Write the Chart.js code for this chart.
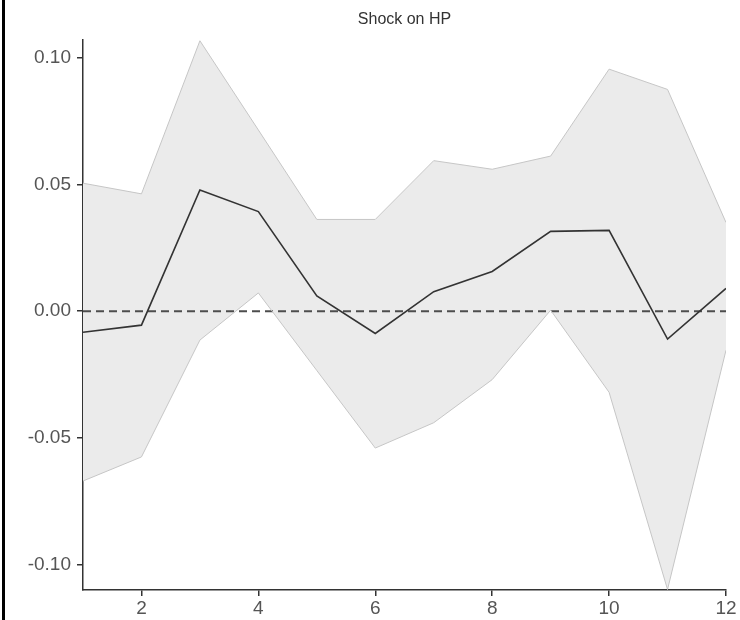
<!DOCTYPE html>
<html>
<head>
<meta charset="utf-8">
<title>Shock on HP</title>
<script src="https://cdn.jsdelivr.net/npm/chart.js@4/dist/chart.umd.min.js"></script>
<style>
    body { margin: 0; background: #fff; }
    #wrap { position: relative; width: 740px; height: 620px; }
    #edge { position: absolute; left: 2px; top: 0; width: 3px; height: 620px; background: #000; }
</style>
</head>
<body>
<div id="wrap">
    <canvas id="irfChart" width="740" height="620"></canvas>
    <div id="edge"></div>
</div>
<script>
// Impulse response values
const steps = [1, 2, 3, 4, 5, 6, 7, 8, 9, 10, 11, 12];
const irf = [-0.0083, -0.0055, 0.0478, 0.0393, 0.0060, -0.0088, 0.0077, 0.0157, 0.0315, 0.0319, -0.0110, 0.0090];
const upper = [0.0505, 0.0463, 0.1067, 0.0715, 0.0362, 0.0362, 0.0594, 0.0560, 0.0612, 0.0955, 0.0875, 0.0350];
const lower = [-0.0670, -0.0575, -0.0114, 0.0072, -0.0234, -0.0540, -0.0440, -0.0270, 0.0004, -0.0320, -0.1098, -0.0154];
const xTicks = [2, 4, 6, 8, 10, 12];
const yTicks = [-0.10, -0.05, 0.00, 0.05, 0.10];
const chartTitle = 'Shock on HP';

function toPoints(values) {
    return steps.map((s, i) => ({ x: s, y: values[i] }));
}

const fontFamily = "'Liberation Sans', Arial, sans-serif";

// dashed horizontal reference line at zero
const zeroLine = {
    id: 'zeroLine',
    beforeDatasetsDraw(chart) {
        const { ctx, chartArea, scales } = chart;
        const y = scales.y.getPixelForValue(0);
        ctx.save();
        ctx.strokeStyle = '#4d4d4d';
        ctx.lineWidth = 2;
        ctx.setLineDash([8, 5]);
        ctx.beginPath();
        ctx.moveTo(chartArea.left, y);
        ctx.lineTo(chartArea.right, y);
        ctx.stroke();
        ctx.restore();
    }
};

// title centred over the plot panel
const panelTitle = {
    id: 'panelTitle',
    afterDraw(chart) {
        const { ctx, chartArea } = chart;
        ctx.save();
        ctx.fillStyle = '#333';
        ctx.font = '16px ' + fontFamily;
        ctx.textAlign = 'center';
        ctx.textBaseline = 'middle';
        ctx.fillText(chartTitle, (chartArea.left + chartArea.right) / 2, 20);
        ctx.restore();
    }
};

const tickFont = { family: fontFamily, size: 19 };

new Chart(document.getElementById('irfChart').getContext('2d'), {
    type: 'line',
    data: {
        datasets: [{
            label: 'IRF',
            data: toPoints(irf),
            borderColor: '#333333',
            borderWidth: 1.6,
            pointRadius: 0,
            fill: false,
            tension: 0
        }, {
            label: 'Upper',
            data: toPoints(upper),
            borderColor: '#c6c6c6',
            borderWidth: 1,
            backgroundColor: '#ebebeb',
            pointRadius: 0,
            fill: '+1',
            tension: 0
        }, {
            label: 'Lower',
            data: toPoints(lower),
            borderColor: '#c6c6c6',
            borderWidth: 1,
            pointRadius: 0,
            fill: false,
            tension: 0
        }]
    },
    options: {
        responsive: false,
        animation: false,
        layout: { padding: { top: 40, right: 14, left: 0, bottom: 0 } },
        plugins: {
            legend: { display: false },
            tooltip: { enabled: false },
            title: { display: false },
            filler: { drawTime: 'beforeDatasetsDraw' }
        },
        scales: {
            x: {
                type: 'linear',
                min: 1,
                max: 12,
                afterBuildTicks: scale => { scale.ticks = xTicks.map(v => ({ value: v })); },
                afterFit: scale => { scale.height = 30; },
                grid: { drawOnChartArea: false, drawTicks: true, tickLength: 6, color: '#333', lineWidth: 1.5 },
                border: { display: true, color: '#333', width: 1.5 },
                ticks: { color: '#555', font: tickFont, padding: 1, maxRotation: 0 }
            },
            y: {
                min: -0.11,
                max: 0.107,
                afterBuildTicks: scale => { scale.ticks = yTicks.map(v => ({ value: v })); },
                afterFit: scale => { scale.width = 83; },
                grid: { drawOnChartArea: false, drawTicks: true, tickLength: 6, color: '#333', lineWidth: 1.5 },
                border: { display: true, color: '#333', width: 1.5 },
                ticks: {
                    color: '#555',
                    font: tickFont,
                    padding: 6,
                    callback: value => value.toFixed(2)
                }
            }
        }
    },
    plugins: [zeroLine, panelTitle]
});
</script>
</body>
</html>
